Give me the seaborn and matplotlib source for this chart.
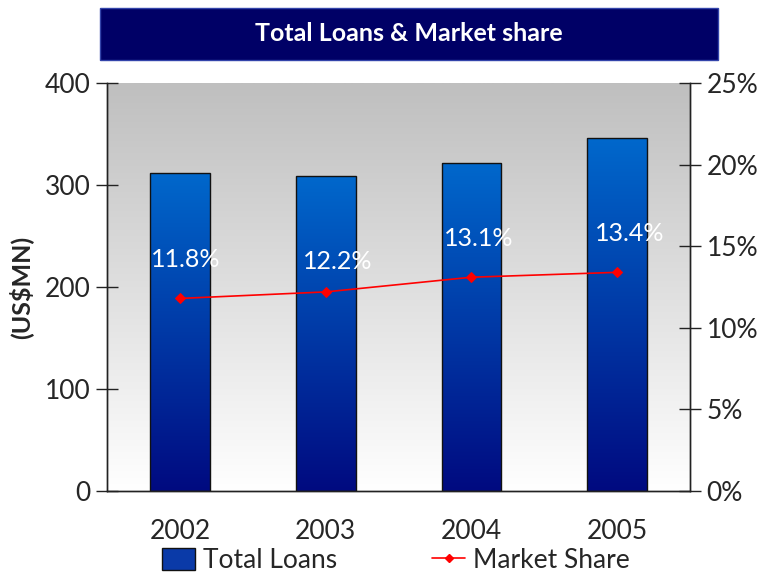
import numpy as np
import pandas as pd
import matplotlib
matplotlib.use("Agg")
import matplotlib.pyplot as plt
import seaborn as sns
from matplotlib.patches import Rectangle, Patch
from matplotlib.lines import Line2D
from matplotlib.colors import LinearSegmentedColormap

# data
years = ["2002", "2003", "2004", "2005"]
total_loans = [312, 309, 322, 346]
market_share = [11.8, 12.2, 13.1, 13.4]

# label nudges (points) so the % labels sit like the original
label_dx = [4, 9, 5, 9]
label_dy = [28, 22, 28, 28]

df = pd.DataFrame({"year": years, "loans": total_loans, "share": market_share})

sns.set_style("white")
plt.rcParams["font.family"] = ["Lato", "DejaVu Sans"]

fig = plt.figure(figsize=(7.71, 5.73), dpi=100)
ax = fig.add_axes([0.1388, 0.1431, 0.7562, 0.712])

# grey-to-white background gradient
bg_cmap = LinearSegmentedColormap.from_list("bg", ["#ffffff", "#bfbfbf"])
grad = np.linspace(0, 1, 256).reshape(-1, 1)
ax.imshow(grad, cmap=bg_cmap, aspect="auto", origin="lower",
          extent=[-0.5, 3.5, 0, 400], zorder=0)

sns.barplot(data=df, x="year", y="loans", ax=ax, width=0.41,
            color="#0055bb", edgecolor="#111111", linewidth=1, zorder=2)

# blue gradient inside each bar
bar_cmap = LinearSegmentedColormap.from_list("bar", ["#000a80", "#0068cc"])
for p in ax.patches:
    x0, w, h = p.get_x(), p.get_width(), p.get_height()
    im = ax.imshow(grad, cmap=bar_cmap, aspect="auto", origin="lower",
                   extent=[x0, x0 + w, 0, h], zorder=2.5)
    im.set_clip_path(p)
    p.set_facecolor("none")
    p.set_zorder(3)

ax.set_xlim(-0.5, 3.5)
ax.set_ylim(0, 400)
ax.set_yticks([0, 100, 200, 300, 400])
ax.set_xticks([-0.5, 0.5, 1.5, 2.5, 3.5])
ax.set_xticklabels([])
ax.set_xticks(range(len(years)), minor=True)
ax.set_xticklabels(years, minor=True)
ax.tick_params(axis="x", which="major", direction="inout", length=14, width=1, color="#222222")
ax.tick_params(axis="x", which="minor", length=0, pad=20, labelsize=19)
ax.tick_params(axis="y", direction="inout", length=16, width=1, color="#222222",
               labelsize=19, pad=4)
ax.set_xlabel("")
ax.set_ylabel("(US$MN)", fontsize=18, fontweight="bold", labelpad=8)

ax2 = ax.twinx()
sns.lineplot(x=np.arange(len(years)), y=market_share, ax=ax2, color="#ff0000",
             marker="D", markersize=5, markeredgecolor="#ff0000", linewidth=1.2, zorder=5)
ax2.set_ylim(0, 25)
ax2.set_yticks([0, 5, 10, 15, 20, 25])
ax2.set_yticklabels([f"{v}%" for v in [0, 5, 10, 15, 20, 25]])
ax2.tick_params(axis="y", direction="inout", length=16, width=1, color="#222222",
                labelsize=19, pad=4)

for i, v in enumerate(market_share):
    ax2.annotate(f"{v}%", (i, v), xytext=(label_dx[i], label_dy[i]),
                 textcoords="offset points", ha="center", va="center",
                 color="white", fontsize=18)

for a in (ax, ax2):
    a.spines["top"].set_visible(False)
    for s in ("left", "right", "bottom"):
        a.spines[s].set_color("#222222")
        a.spines[s].set_linewidth(1)

# title box
fig.patches.append(Rectangle((0.1297, 0.8953), 0.8016, 0.0907, transform=fig.transFigure,
                             facecolor="#000066", edgecolor="#3344aa", linewidth=1))
fig.text(0.5305, 0.9407, "Total Loans & Market share", ha="center", va="center",
         color="white", fontsize=18, fontweight="bold")

handles = [Patch(facecolor="#0a3aa8", edgecolor="#111111", label="Total Loans"),
           Line2D([0], [0], color="#ff0000", marker="D", markersize=4, lw=1.2,
                  label="Market Share")]
fig.legend(handles=handles, loc="center", bbox_to_anchor=(0.514, 0.022), ncol=2,
           frameon=False, fontsize=19, columnspacing=3.6, handlelength=1.25,
           handleheight=0.9, handletextpad=0.3, borderaxespad=0)

fig.savefig("out.png", dpi=100)
